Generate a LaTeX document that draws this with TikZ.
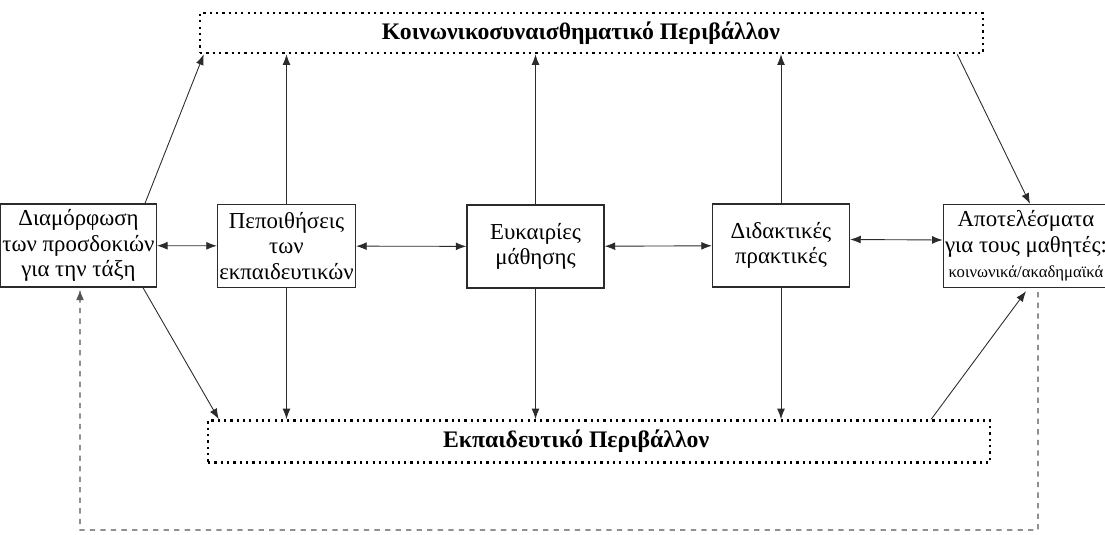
\documentclass[tikz,border=0pt]{standalone}
\usepackage{fontspec}
\setmainfont{Liberation Serif}
\definecolor{LineDark}{HTML}{2B2B2B}
\definecolor{FeedGray}{HTML}{555555}
\usetikzlibrary{
  arrows.meta,
  calc
}

\begin{document}
\begin{tikzpicture}[
  x=0.02cm, y=-0.02cm,
  stage/.style={
    rectangle, draw=LineDark, line width=0.8pt,
    minimum width=2.74cm, minimum height=1.66cm,
    inner sep=1pt, align=center,
    font=\fontsize{13}{14.5}\selectfont
  },
  milieu/.style={
    rectangle, draw=black, line width=1.5pt,
    dash pattern=on 1.3pt off 2.3pt,
    font=\fontsize{13.5}{15}\selectfont\bfseries
  },
  link/.style={
    draw=LineDark, line width=0.5pt,
    -{Latex[length=6pt,width=4.5pt]}
  },
  both/.style={
    draw=LineDark, line width=0.5pt,
    {Latex[length=6pt,width=4.5pt]}-{Latex[length=6pt,width=4.5pt]}
  },
  feedback/.style={
    draw=FeedGray, dashed, line width=0.6pt,
    -{Latex[length=6pt,width=4.5pt]}
  }
]
  \useasboundingbox (0,0) rectangle (1105,534);

  % Environments (top and bottom)
  \node[milieu, minimum width=15.66cm, minimum height=0.8cm]
    (soc) at (591.5,33)
    {\hspace*{-12pt}Κοινωνικοσυναισθηματικό Περιβάλλον};
  \node[milieu, minimum width=15.64cm, minimum height=0.84cm]
    (edu) at (599,441.5)
    {\hspace*{-26pt}Εκπαιδευτικό Περιβάλλον};

  % Chain of stages (left to right)
  \node[stage] (b1) at (78.5,245.5)
    {Διαμόρφωση\\των προσδοκιών\\για την τάξη};
  \node[stage] (b2) at (286.5,246)
    {Πεποιθήσεις\\των\\εκπαιδευτικών};
  \node[stage] (b3) at (535.5,246.5)
    {Ευκαιρίες\\μάθησης};
  \node[stage] (b4) at (781,245.5)
    {Διδακτικές\\πρακτικές};
  \node[stage, minimum width=2.78cm] (b5) at (1026,246)
    {Αποτελέσματα\\για τους μαθητές:\\{\fontsize{9.5}{11}\selectfont κοινωνικά/ακαδημαϊκά}};

  % Links between stages
  \draw[both] (b1) -- (b2);
  \draw[both] (b2) -- (b3);
  \draw[both] (b3) -- (b4);
  \draw[both] ($(b4.east)+(0,-6)$) -- ($(b5.west)+(0,-6)$);

  % Links to the environments
  \draw[link] ($(b1.north east)+(-12,0)$) -- ($(soc.south west)+(5,0)$);
  \draw[link] ($(b1.south east)+(-14,0)$) -- ($(edu.north west)+(12,0)$);
  \foreach \s in {b2,b3,b4} {
    \draw[link] (\s.north) -- (\s.north |- soc.south);
    \draw[link] (\s.south) -- (\s.south |- edu.north);
  }
  \draw[link] ($(soc.south east)+(-27,0)$) -- ($(b5.north)+(4,0)$);
  \draw[link] ($(edu.north east)+(-60,0)$) -- ($(b5.south)+(0,3)$);

  % Feedback loop
  \coordinate (fb) at (80,530);
  \draw[feedback] ($(b5.south)+(12,4)$) |- (fb)
    -- ($(b1.south)+(1.5,2)$);
\end{tikzpicture}
\end{document}
